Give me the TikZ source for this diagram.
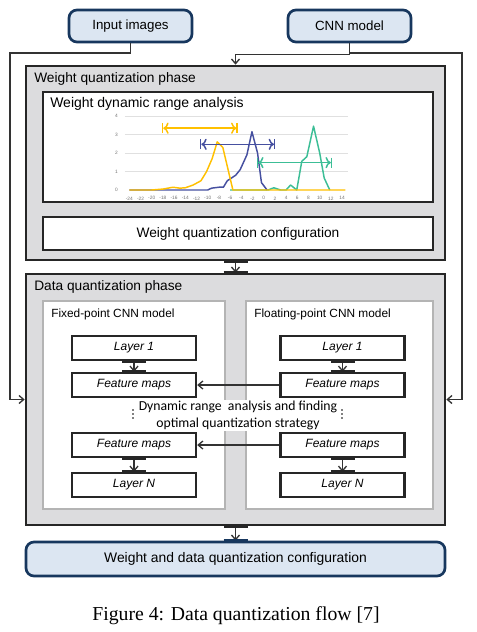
\documentclass[tikz,border=0pt]{standalone}
\usepackage{fontspec}
\setmainfont{Liberation Sans}
\newfontfamily\calfont{Carlito}
\newfontfamily\capfont{Liberation Serif}
\usetikzlibrary{arrows.meta}

\definecolor{ioblue}{HTML}{DCE6F2}
\definecolor{ionavy}{HTML}{17375E}
\definecolor{phasegray}{HTML}{DCDCDE}
\definecolor{subgray}{HTML}{B4B4B4}
\definecolor{wyellow}{HTML}{FFC000}
\definecolor{wblue}{HTML}{4650A0}
\definecolor{wgreen}{HTML}{3CBE96}

\begin{document}
\begin{tikzpicture}[x=0.75pt, y=-0.75pt,
  iobox/.style={draw=ionavy, fill=ioblue, line width=2pt, rounded corners=6pt, font=\fontsize{10}{12}\selectfont},
  phasebox/.style={draw=black!85, fill=phasegray, line width=2pt},
  whitebox/.style={draw=black!85, fill=white, line width=2pt},
  modelbox/.style={draw=subgray, fill=white, line width=2pt},
  layerbox/.style={draw=black!85, fill=white, line width=1.8pt, minimum width=124*0.75pt, minimum height=24*0.75pt, font=\fontsize{9}{11}\selectfont\itshape},
  title/.style={anchor=west, inner sep=0pt, font=\fontsize{10.3}{12}\selectfont},
  subtitle/.style={anchor=west, inner sep=0pt, font=\fontsize{8.9}{11}\selectfont},
  flow/.style={draw=black!80, line width=1pt, -{Straight Barb[length=3.5pt,width=6pt]}},
  tab/.style={line width=2.4pt, draw=black!85},
  curve/.style={line width=1.1pt, line join=round},
  ticklbl/.style={inner sep=0pt, text=black!55, font=\fontsize{3.6}{4}\selectfont},
]
\useasboundingbox (0,0) rectangle (477,632);

% inputs
\node[iobox, minimum width=123*0.75pt, minimum height=32*0.75pt] (inp) at (130.5,26) {Input images};
\node[iobox, minimum width=123*0.75pt, minimum height=32*0.75pt] (cnn) at (349.5,26) {CNN model};

% weight quantization phase
\node[phasebox, minimum width=419*0.75pt, minimum height=194*0.75pt] (wphase) at (235.5,163) {};
\node[title] (wtitle) at (34,79) {Weight quantization phase};
\node[whitebox, minimum width=390*0.75pt, minimum height=110*0.75pt] (wdr) at (238,147) {};
\node[title, font=\fontsize{10.5}{12}\selectfont] (wdrtitle) at (50,104) {Weight dynamic range analysis};
\node[whitebox, minimum width=390*0.75pt, minimum height=33*0.75pt, font=\fontsize{10.3}{12}\selectfont] (wcfg) at (238,233.5) {Weight quantization configuration};

% range chart
\begin{scope}[shift={(263.7,190)}, x=4.2pt, y=13.875pt]
\foreach \v in {1,...,4}
  \draw[black!12, line width=0.5pt] (-24.8,\v) -- (15,\v);
\foreach \t in {-24,-22,...,14}
  \node[ticklbl] at (\t,-0.45) {\t};
\foreach \v in {0,...,4}
  \node[ticklbl] at (-26.3,\v) {\v};
\draw[curve, wgreen] plot coordinates {(-6,0) (0.8,0) (1.8,0.12) (3,0) (4,0) (4.8,0.27) (5.9,0) (6.8,1.55) (7.7,1.8) (8.9,3.45) (10,2) (10.8,0.65) (11.8,0)};
\draw[curve, wblue] plot coordinates {(-24,0) (-10,0) (-9.3,0.1) (-8,0.15) (-7.2,0.15) (-6.5,0.5) (-6,0.6) (-5,0.8) (-4.2,1.1) (-3,1.9) (-2.1,3.15) (-1.1,2.0) (-0.4,0.4) (0.6,0)};
\draw[curve, wyellow] plot coordinates {(-24,0) (-20,0) (-18,0.05) (-16.2,0.15) (-15,0.1) (-14,0.12) (-12.6,0.27) (-11.2,0.5) (-10.2,1.0) (-9.2,1.7) (-8.3,2.6) (-7.3,2.3) (-5.5,0) (14.6,0)};
% ranges
\draw[curve, wyellow, |<->|] (-18.2,3.34) -- (-4.6,3.34);
\draw[curve, wblue, |<->|] (-11.4,2.47) -- (2.1,2.47);
\draw[curve, wgreen, |<->|] (-1.25,1.48) -- (12.25,1.48);
\end{scope}

% data quantization phase
\node[phasebox, minimum width=419*0.75pt, minimum height=251*0.75pt] (dphase) at (235.5,399.5) {};
\node[title] (dtitle) at (34,287) {Data quantization phase};
\node[modelbox, minimum width=182*0.75pt, minimum height=208*0.75pt] (fixed) at (134,405) {};
\node[subtitle] (fixedtitle) at (51,314) {Fixed-point CNN model};
\node[modelbox, minimum width=187*0.75pt, minimum height=208*0.75pt] (float) at (339.5,405) {};
\node[subtitle] (floattitle) at (254,314) {Floating-point CNN model};

% layers
\node[layerbox] (lL1) at (134,348) {Layer 1};
\node[layerbox] (lFM1) at (134,385) {Feature maps};
\node[layerbox] (lFM2) at (134,445) {Feature maps};
\node[layerbox] (lLN) at (134,485) {Layer N};
\node[layerbox] (rL1) at (342.5,348) {Layer 1};
\node[layerbox] (rFM1) at (342.5,385) {Feature maps};
\node[layerbox] (rFM2) at (342.5,445) {Feature maps};
\node[layerbox] (rLN) at (342.5,485) {Layer N};
\node[fill=white, inner sep=0.5pt, align=center, font=\calfont\fontsize{10.3}{12.75}\selectfont] (dra) at (238,415.5) {Dynamic range\ \ analysis and finding\\optimal quantization strategy};
% skipped layers
\foreach \yy in {410,414,418} {
  \fill (133,\yy) circle (0.7pt);
  \fill (342,\yy) circle (0.7pt);
}

% output
\node[iobox, minimum width=419*0.75pt, minimum height=34*0.75pt, font=\fontsize{10.4}{12}\selectfont] (final) at (235.5,559) {Weight and data quantization configuration};

% connectors
\coordinate (inpturn) at (10,53);
\coordinate (cnnturn) at (462,53);
\draw[flow] (inp.south) |- (inpturn) |- (dphase.west);
\draw[flow] (cnn.south) -- ++(0,11) -| (wphase.north);
\draw[flow] (cnn.south) |- (cnnturn) |- (dphase.east);
\draw[flow] (wphase.south) -- (dphase.north);
\draw[flow] (dphase.south) -- (final.north);
\draw[flow] (lL1.south) -- (lFM1.north);
\draw[flow] (lFM2.south) -- (lLN.north);
\draw[flow] (rL1.south) -- (rFM1.north);
\draw[flow] (rFM2.south) -- (rLN.north);
\draw[flow] (rFM1.west) -- (lFM1.east);
\draw[flow] (rFM2.west) -- (lFM2.east);

% glue tabs
\foreach \a in {wphase.south, dphase.north, dphase.south, lL1.south, lFM1.north, lFM2.south, lLN.north, rL1.south, rFM1.north, rFM2.south, rLN.north}
  \draw[tab] ([xshift=-9pt]\a) -- ([xshift=9pt]\a);
\draw[tab, draw=ionavy] ([xshift=-9pt]final.north) -- ([xshift=9pt]final.north);

% caption
\node[font=\capfont\fontsize{14.8}{16}\selectfont] (cap) at (236,616) {Figure 4: Data quantization flow [7]};
\end{tikzpicture}
\end{document}
